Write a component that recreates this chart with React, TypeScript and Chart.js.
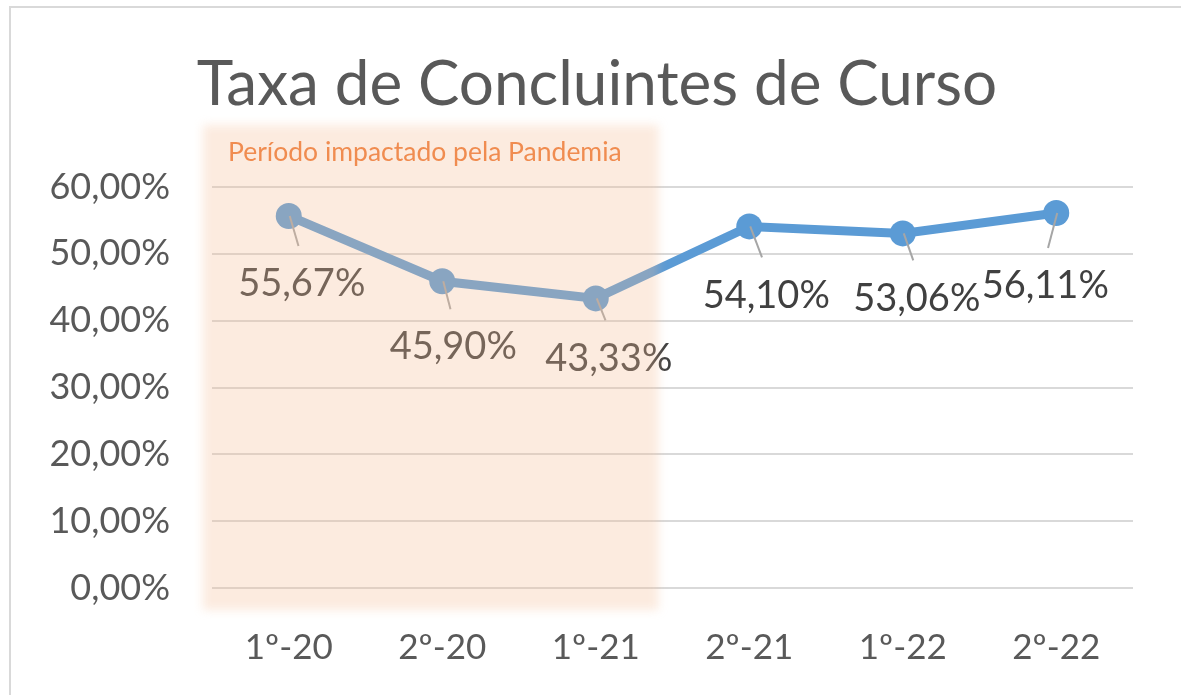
import React, { useEffect, useRef } from "react";
import { Chart, registerables } from "chart.js";
Chart.register(...registerables);

const titleText = "Taxa de Concluintes de Curso";
const bandText = "Período impactado pela Pandemia";
const categories = ["1º-20", "2º-20", "1º-21", "2º-21", "1º-22", "2º-22"];
const rates = [55.67, 45.9, 43.33, 54.1, 53.06, 56.11];
const yTicksMax = 60;
const yStep = 10;
const bandLastIndex = 2;
// label offsets relative to the point (style)
const labelOffsets = [
  [13, 68], [11, 66], [13, 60], [17, 69], [14, 65], [-11, 73],
];

const FONT = "Lato, 'Open Sans', sans-serif";
const fmt = (v: number) => v.toFixed(2).replace(".", ",") + "%";

const overlayPlugin = {
  id: "overlayPlugin",
  afterDatasetsDraw(chart: any) {
    const { ctx } = chart;
    const meta = chart.getDatasetMeta(0);
    ctx.save();
    meta.data.forEach((pt: any, i: number) => {
      const [dx, dy] = labelOffsets[i];
      ctx.strokeStyle = "#A6A6A6";
      ctx.lineWidth = 2;
      ctx.beginPath();
      ctx.moveTo(pt.x + 1, pt.y);
      ctx.lineTo(pt.x + dx * 0.75, pt.y + dy - 38);
      ctx.stroke();
      ctx.fillStyle = "#404040";
      ctx.font = `38px ${FONT}`;
      ctx.textAlign = "center";
      ctx.textBaseline = "middle";
      ctx.fillText(fmt(rates[i]), pt.x + dx, pt.y + dy);
    });
    ctx.restore();
  },
  afterDraw(chart: any) {
    const { ctx, chartArea, scales } = chart;
    const x = scales.x;
    const left = x.getPixelForValue(-0.5) - 9;
    const right = x.getPixelForValue(bandLastIndex + 0.5) - 14;
    const top = chartArea.top - 62;
    const bottom = chartArea.bottom + 22;
    ctx.save();
    ctx.filter = "blur(5px)";
    ctx.fillStyle = "rgba(245,190,150,0.30)";
    ctx.fillRect(left, top, right - left, bottom - top);
    ctx.filter = "none";
    ctx.fillStyle = "#F08C50";
    ctx.font = `26.5px ${FONT}`;
    ctx.textAlign = "left";
    ctx.textBaseline = "middle";
    ctx.fillText(bandText, left + 25, top + 27);
    // title
    ctx.fillStyle = "#595959";
    ctx.font = `62px ${FONT}`;
    ctx.textAlign = "center";
    ctx.fillText(titleText, 597, 85);
    ctx.restore();
  },
};

export default function App() {
  const ref = useRef<HTMLCanvasElement>(null);
  useEffect(() => {
    const chart = new Chart(ref.current!, {
      type: "line",
      data: {
        labels: categories,
        datasets: [
          {
            data: rates,
            borderColor: "#5B9BD5",
            backgroundColor: "#5B9BD5",
            borderWidth: 9,
            pointRadius: 13,
            pointBorderWidth: 0,
            pointBackgroundColor: "#5B9BD5",
            tension: 0,
          },
        ],
      },
      options: {
        animation: false,
        responsive: false,
        layout: { padding: { top: 187, right: 48, left: 0, bottom: 0 } },
        plugins: { legend: { display: false }, tooltip: { enabled: false } },
        scales: {
          x: {
            offset: true,
            grid: { display: false },
            border: { display: false },
            ticks: { color: "#595959", font: { size: 35, family: FONT }, padding: 31 },
            afterFit: (s: any) => { s.height = 107; },
          },
          y: {
            min: 0,
            max: yTicksMax,
            ticks: {
              stepSize: yStep,
              color: "#595959",
              font: { size: 36, family: FONT },
              padding: 42,
              callback: (v: any) => fmt(Number(v)),
            },
            grid: { color: "#D9D9D9", lineWidth: 2, drawTicks: false },
            border: { display: false },
            afterFit: (s: any) => { s.width = 212; },
          },
        },
      },
      plugins: [overlayPlugin],
    });
    return () => chart.destroy();
  }, []);
  return (
    <div style={{ position: "fixed", left: 0, top: 0, width: 1181, height: 695, overflow: "hidden", background: "#fff" }}>
      <div style={{ position: "absolute", left: 9, top: 6, width: 1200, height: 720, border: "2px solid #D9D9D9", boxSizing: "border-box" }} />
      <canvas ref={ref} width={1181} height={695} style={{ position: "absolute", left: 0, top: 0 }} />
    </div>
  );
}
